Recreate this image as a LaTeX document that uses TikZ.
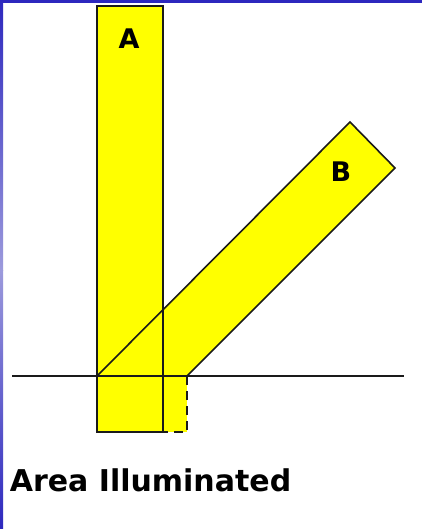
\documentclass[tikz,border=0pt]{standalone}
\usepackage{fontspec}
\setmainfont{DejaVu Sans}
\definecolor{beam}{HTML}{FFFF00}
\definecolor{frame}{HTML}{2D28BE}
\definecolor{framelight}{HTML}{9C9ADC}
\definecolor{edge}{HTML}{1A1A1A}

\begin{document}
\begin{tikzpicture}[x=1pt, y=-1pt, line width=1.6pt,
    every node/.style={font=\bfseries\fontsize{27}{29}\selectfont, inner sep=0pt}]
  \useasboundingbox (0,0) rectangle (422,529);
  \fill[white] (0,0) rectangle (422,529);
  % frame
  \fill[frame] (0,0) rectangle (422,3);
  \fill[top color=frame, bottom color=framelight] (0,0) rectangle (3,270);
  \fill[top color=framelight, bottom color=frame] (0,270) rectangle (3,529);
  % beams
  \fill[beam] (97,6) rectangle (163,432);
  \fill[beam] (97,376) -- (187,376) -- (395,168) -- (350,122) -- cycle;
  \fill[beam] (163,376) rectangle (187,432);
  \draw[edge, dash pattern=on 9pt off 6pt] (187,376) -- (187,432) -- (163,432);
  \draw[edge] (97,6) rectangle (163,432);
  \draw[edge] (97,376) -- (350,122) -- (395,168) -- (187,376);
  \draw[edge] (12,376) -- (404,376);
  \node (labelA) at (129,39) {A};
  \node (labelB) at (341,172) {B};
  \node[anchor=base west, font=\bfseries\fontsize{30}{32}\selectfont] (caption) at (9,491) {Area Illuminated};
\end{tikzpicture}
\end{document}
